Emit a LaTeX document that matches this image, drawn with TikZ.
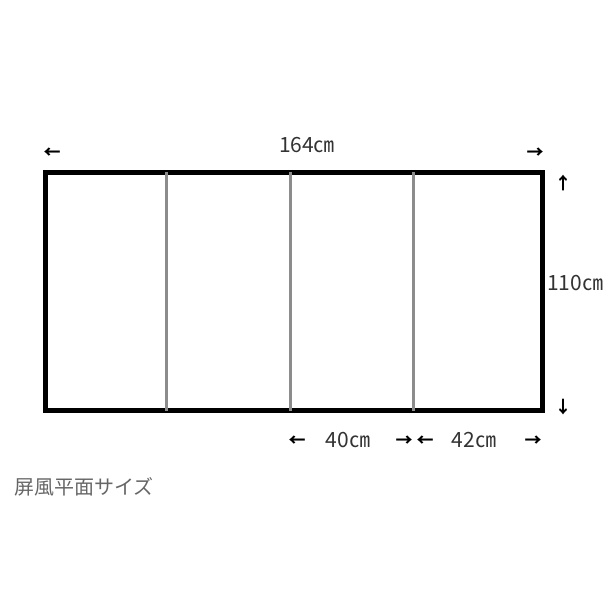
\documentclass[tikz,border=0pt]{standalone}
\usepackage{fontspec}
\newfontfamily\jp{Noto Sans CJK JP}
\begin{document}
\begin{tikzpicture}[x=1pt,y=-1pt,
  frame/.style={line width=5pt,draw=black},
  divider/.style={line width=3pt,draw=black!45},
  lbl/.style={font=\jp\fontsize{21}{21}\selectfont,inner sep=0pt,text=black!80},
  arr/.style={font=\jp\bfseries\fontsize{17}{17}\selectfont,inner sep=0pt},
  captxt/.style={font=\jp\fontsize{20}{20}\selectfont,inner sep=0pt,text=black!60,anchor=west}]
\useasboundingbox (0,0) rectangle (612,612);
\coordinate (tl) at (45.5,172.5);
\coordinate (br) at (542.5,410.5);
\draw[frame] (tl) rectangle (br);
\coordinate (d1t) at (166,172.5); \coordinate (d1b) at (166,410.5);
\coordinate (d2t) at (290,172.5); \coordinate (d2b) at (290,410.5);
\coordinate (d3t) at (413,172.5); \coordinate (d3b) at (413,410.5);
\draw[divider] (d1t) -- (d1b);
\draw[divider] (d2t) -- (d2b);
\draw[divider] (d3t) -- (d3b);
\node[lbl] (w) at (307,145) {164㎝};
\node[arr] (wl) at (52,153) {←};
\node[arr] (wr) at (535,153) {→};
\node[arr] (hu) at (563,183) {↑};
\node[arr] (hd) at (563,407) {↓};
\node[lbl,anchor=west] (h) at (547,283) {110㎝};
\node[arr] (al) at (297,441) {←};
\node[lbl] (a) at (348,440) {40㎝};
\node[arr] (ar) at (404,441) {→};
\node[arr] (bl) at (425,441) {←};
\node[lbl] (b) at (474,440) {42㎝};
\node[arr] (br2) at (533,441) {→};
\node[captxt] (c) at (14,487) {屏風平面サイズ};
\end{tikzpicture}
\end{document}
